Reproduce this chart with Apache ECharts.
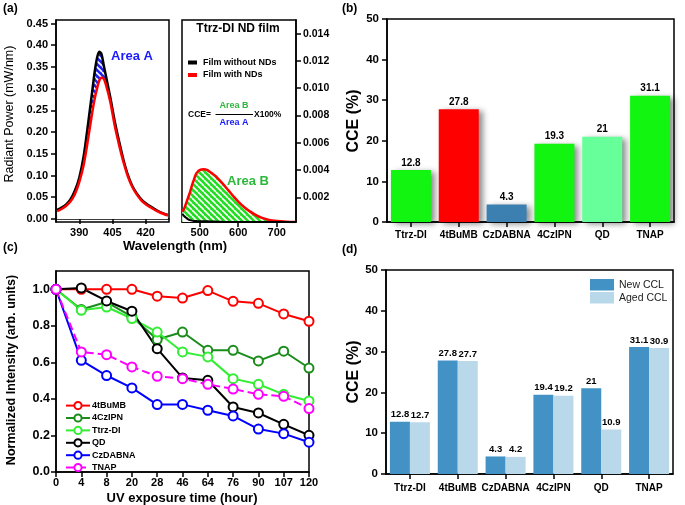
<!DOCTYPE html>
<html><head><meta charset="utf-8">
<script src="https://cdn.jsdelivr.net/npm/echarts@6/dist/echarts.min.js"></script>
<style>html,body{margin:0;padding:0;background:#fff}#c{width:685px;height:505px}</style>
</head><body><div id="c"></div>
<script>
// ---- data ----
const wlA = [380,382,384,386,388,390,392,394,396,397,398,399,400,401,402,404,406,408,410,412,414,416,418,420,423,426,430];
const blackA = [0.021,0.026,0.033,0.045,0.065,0.095,0.145,0.22,0.30,0.34,0.37,0.385,0.38,0.355,0.33,0.28,0.225,0.178,0.135,0.10,0.075,0.058,0.045,0.036,0.026,0.017,0.009];
const redA = [0.018,0.023,0.030,0.040,0.057,0.085,0.125,0.185,0.25,0.278,0.30,0.318,0.325,0.323,0.31,0.27,0.215,0.17,0.13,0.097,0.073,0.056,0.043,0.034,0.024,0.016,0.008];
const wlB = [455,460,465,470,475,480,485,490,495,500,505,510,515,520,530,540,550,560,575,590,600,615,630,645,660,680,700,725,750];
const redB = [0.00095,0.0012,0.0016,0.0020,0.0024,0.0029,0.0033,0.0037,0.0039,0.0040,0.00405,0.00407,0.00405,0.0040,0.0038,0.0036,0.0033,0.0030,0.0025,0.0020,0.0017,0.0013,0.00098,0.00072,0.00052,0.00035,0.00027,0.00022,0.0002];
const blackB = [0.0008,0.00062,0.0005,0.0004,0.00034,0.0003,0.00028,0.00027,0.00026,0.00026,0.00026,0.00025,0.00025,0.00025,0.00024,0.00023,0.00022,0.00021,0.0002,0.0002,0.0002,0.0002,0.0002,0.0002,0.0002,0.0002,0.0002,0.0002,0.0002];
const ticksAy = [0,0.05,0.10,0.15,0.20,0.25,0.30,0.35,0.40,0.45];
const ticksAx = [390,405,420];
const ticksBx = [500,600,700];
const ticksBy = [0.002,0.004,0.006,0.008,0.010,0.012,0.014];

const materials = ['Ttrz-DI','4tBuMB','CzDABNA','4CzIPN','QD','TNAP'];
const cceB = [12.8,27.8,4.3,19.3,21,31.1];
const barColorsB = ['#11f511','#ff0000','#3c7fb1','#11f511','#66ff99','#11f511'];

const hours = ['0','4','8','20','28','46','64','76','90','107','120'];
const ticksCy = [0,0.2,0.4,0.6,0.8,1.0];
const seriesNamesC = ['4tBuMB','4CzIPN','Ttrz-DI','QD','CzDABNA','TNAP'];
const v4tBuMB = [1.0,1.0,1.0,1.0,0.962,0.952,0.993,0.934,0.923,0.865,0.825];
const v4CzIPN = [1.0,0.889,0.93,0.85,0.725,0.766,0.666,0.666,0.608,0.661,0.569];
const vTtrzDI = [1.0,0.885,0.903,0.84,0.766,0.657,0.63,0.511,0.48,0.425,0.389];
const vQD = [1.0,1.007,0.936,0.88,0.675,0.515,0.502,0.356,0.323,0.261,0.201];
const vCzDABNA = [1.0,0.611,0.528,0.46,0.369,0.37,0.338,0.307,0.235,0.21,0.163];
const vTNAP = [1.0,0.657,0.642,0.575,0.524,0.511,0.48,0.454,0.425,0.414,0.347];
const colorsC = ['#ff0000','#1a8c1a','#33ee33','#000000','#0000ff','#ff00ff'];

const cceNew = [12.8,27.8,4.3,19.4,21,31.1];
const cceAged = [12.7,27.7,4.2,19.2,10.9,30.9];

// ---- helpers ----
const FF = 'Liberation Sans, Arial, sans-serif';
function hatch(bg, fg){
  const c = document.createElement('canvas'); c.width = 6; c.height = 6;
  const g = c.getContext('2d'); g.fillStyle = bg; g.fillRect(0,0,6,6);
  g.strokeStyle = fg; g.lineWidth = 1.6; g.beginPath();
  for (const o of [-6,0,6]) { g.moveTo(o,0); g.lineTo(o+6,6); }
  g.stroke(); return c;
}
const pair = (xs, ys) => xs.map((x,i)=>[x, ys[i]]);
const axLine = {show:true, lineStyle:{color:'#000', width:1.5}};
const tick = (show)=>({show, inside:false, length:5, lineStyle:{color:'#000', width:1.5}});
const lbl = (size, extra)=>Object.assign({color:'#000', fontWeight:'bold', fontFamily:FF, fontSize:size}, extra||{});
const gridBase = {show:true, borderColor:'#000', borderWidth:1.5, backgroundColor:'transparent', containLabel:false};

const chart = echarts.init(document.getElementById('c'), null, {renderer:'canvas'});
const option = {
  animation:false,
  backgroundColor:'#fff',
  grid:[
    Object.assign({left:56, top:20, width:113, height:202}, gridBase),
    Object.assign({left:182, top:20, width:114, height:202}, gridBase),
    Object.assign({left:387, top:19, width:287, height:203}, gridBase),
    Object.assign({left:56, top:271, width:253, height:201}, gridBase),
    Object.assign({left:386, top:270, width:287, height:204}, gridBase)
  ],
  xAxis:[
    {gridIndex:0, type:'value', min:379.5, max:430.5, splitLine:{show:false}, axisLine:axLine,
     axisTick:Object.assign(tick(true),{customValues:ticksAx}), axisLabel:lbl(11,{customValues:ticksAx, margin:5})},
    {gridIndex:1, type:'value', min:454, max:750, splitLine:{show:false}, axisLine:axLine,
     axisTick:Object.assign(tick(true),{customValues:ticksBx}), axisLabel:lbl(11,{customValues:ticksBx, margin:5})},
    {gridIndex:2, type:'category', data:materials, axisLine:axLine, axisTick:Object.assign(tick(true),{alignWithLabel:true, interval:0}), axisLabel:lbl(10,{margin:8, interval:0})},
    {gridIndex:3, type:'category', data:hours, boundaryGap:false, axisLine:axLine, axisTick:Object.assign(tick(true),{interval:0}), axisLabel:lbl(11,{margin:5, interval:0})},
    {gridIndex:4, type:'category', data:materials, axisLine:axLine, axisTick:Object.assign(tick(true),{alignWithLabel:true, interval:0}), axisLabel:lbl(10,{margin:9, interval:0})}
  ],
  yAxis:[
    {gridIndex:0, type:'value', min:-0.007, max:0.458, splitLine:{show:false}, axisLine:axLine,
     axisTick:Object.assign(tick(true),{customValues:ticksAy}), axisLabel:lbl(11,{customValues:ticksAy, margin:8, formatter:v=>v.toFixed(2)})},
    {gridIndex:1, type:'value', position:'right', min:0.0002, max:0.015, splitLine:{show:false}, axisLine:axLine,
     axisTick:Object.assign(tick(true),{customValues:ticksBy}), axisLabel:lbl(10.5,{customValues:ticksBy, margin:7, formatter:v=>v.toFixed(3)})},
    {gridIndex:2, type:'value', min:0, max:50, interval:10, splitLine:{show:false}, axisLine:axLine, axisTick:tick(true), axisLabel:lbl(11.5,{margin:8})},
    {gridIndex:3, type:'value', min:0, max:1.1, splitLine:{show:false}, axisLine:axLine,
     axisTick:Object.assign(tick(true),{customValues:ticksCy}), axisLabel:lbl(12.5,{customValues:ticksCy, margin:6, formatter:v=>v.toFixed(1)})},
    {gridIndex:4, type:'value', min:0, max:50, interval:10, splitLine:{show:false}, axisLine:axLine, axisTick:tick(true), axisLabel:lbl(11.5,{margin:8})}
  ],
  legend:[
    {data:seriesNamesC, orient:'vertical', left:60, top:396, itemWidth:24, itemHeight:9, itemGap:3.2,
     textStyle:{fontSize:9, fontWeight:'bold', color:'#000', fontFamily:FF, padding:[0,0,0,-3]}},
    {data:['New CCL','Aged CCL'], orient:'vertical', left:585, top:274, itemWidth:24, itemHeight:11.5, itemGap:1.5,
     icon:'rect', textStyle:{fontSize:10.5, color:'#222', fontFamily:FF}}
  ],
  series:[]
};

// (a) left
option.series.push({type:'line', name:'blackA', xAxisIndex:0, yAxisIndex:0, data:pair(wlA, blackA), smooth:0.3, showSymbol:false,
  lineStyle:{color:'#000', width:2.5}, areaStyle:{color:{image:hatch('#2222ee','#ffffff'), repeat:'repeat'}, opacity:1}, z:2});
option.series.push({type:'line', name:'redA', xAxisIndex:0, yAxisIndex:0, data:pair(wlA, redA), smooth:0.3, showSymbol:false,
  lineStyle:{color:'#ff0000', width:2.5}, areaStyle:{color:'#ffffff', opacity:1}, z:3});
// (a) right
option.series.push({type:'line', name:'redB', xAxisIndex:1, yAxisIndex:1, data:pair(wlB, redB), smooth:0.3, showSymbol:false,
  lineStyle:{color:'#ff0000', width:2.5}, areaStyle:{color:{image:hatch('#22dd22','#ffffff'), repeat:'repeat'}, opacity:1}, z:2});
option.series.push({type:'line', name:'blackB', xAxisIndex:1, yAxisIndex:1, data:pair(wlB, blackB), smooth:0.3, showSymbol:false,
  lineStyle:{color:'#000', width:2}, areaStyle:{color:'#ffffff', opacity:1}, z:3});
// (b)
option.series.push({type:'bar', name:'CCE', xAxisIndex:2, yAxisIndex:2, barWidth:40,
  data:cceB.map((v,i)=>({value:v, itemStyle:{color:barColorsB[i]}})),
  itemStyle:{shadowColor:'rgba(0,0,0,0.45)', shadowBlur:6, shadowOffsetX:4, shadowOffsetY:2},
  label:{show:true, position:'top', distance:2, fontSize:10, fontWeight:'bold', color:'#000', fontFamily:FF}});
// (c)
const valsC = [v4tBuMB, v4CzIPN, vTtrzDI, vQD, vCzDABNA, vTNAP];
seriesNamesC.forEach((n,i)=>{
  option.series.push({type:'line', name:n, xAxisIndex:3, yAxisIndex:3, data:valsC[i], symbol:'emptyCircle', symbolSize:9,
    lineStyle:{color:colorsC[i], width:2, type: n==='TNAP' ? [8,4] : 'solid'},
    itemStyle:{color:colorsC[i], borderColor:colorsC[i], borderWidth:1.2}});
});
// (d)
option.series.push({type:'bar', name:'New CCL', xAxisIndex:4, yAxisIndex:4, data:cceNew, barWidth:20, barGap:'0%',
  itemStyle:{color:'#4292c6'}, label:{show:true, position:'top', distance:2, fontSize:9.5, fontWeight:'bold', color:'#000', fontFamily:FF}});
option.series.push({type:'bar', name:'Aged CCL', xAxisIndex:4, yAxisIndex:4, data:cceAged, barWidth:20, barGap:'0%',
  itemStyle:{color:'#b9d8ea'}, label:{show:true, position:'top', distance:2, fontSize:9.5, fontWeight:'bold', color:'#000', fontFamily:FF}});

const T = (x,y,text,font,fill,align,rot)=>({type:'text', x, y, rotation:rot||0, silent:true, z:100,
  style:{text, font, fill:fill||'#000', textAlign:align||'left', textVerticalAlign:'middle'}});
option.graphic = [
  T(3,9,'(a)','bold 12px '+FF),
  T(342,9,'(b)','bold 12px '+FF),
  T(3,248,'(c)','bold 12px '+FF),
  T(342,250,'(d)','bold 12px '+FF),
  T(10,114,'Radiant Power (mW/nm)','12.5px '+FF,'#000','center',Math.PI/2),
  T(175,246,'Wavelength (nm)','bold 13px '+FF,'#000','center'),
  T(111,56,'Area A','bold 13px '+FF,'#1a1aff'),
  T(227,181,'Area B','bold 13px '+FF,'#2db83d'),
  T(238,29,'Ttrz-DI ND film','bold 12px '+FF,'#000','center'),
  {type:'rect', shape:{x:188,y:60.5,width:9,height:4}, style:{fill:'#000'}, z:100},
  {type:'rect', shape:{x:188,y:73,width:9,height:4}, style:{fill:'#ff0000'}, z:100},
  T(203,62.5,'Film without NDs','bold 9px '+FF),
  T(203,75,'Film with NDs','bold 9px '+FF),
  T(188,115,'CCE=','bold 8.5px '+FF),
  T(234,106,'Area B','bold 9px '+FF,'#2db83d','center'),
  T(234,123,'Area A','bold 9px '+FF,'#1a1aff','center'),
  {type:'line', shape:{x1:215.5,y1:114.5,x2:253,y2:114.5}, style:{stroke:'#000', lineWidth:1}, z:100},
  T(254,115,'X100%','bold 8.5px '+FF),
  T(354,121,'CCE (%)','bold 16px '+FF,'#000','center',Math.PI/2),
  T(354,372,'CCE (%)','bold 16px '+FF,'#000','center',Math.PI/2),
  T(12,370,'Normalized Intensity (arb. units)','bold 12.5px '+FF,'#000','center',Math.PI/2),
  T(182,498,'UV exposure time (hour)','bold 13px '+FF,'#000','center')
];
chart.setOption(option);
</script></body></html>
